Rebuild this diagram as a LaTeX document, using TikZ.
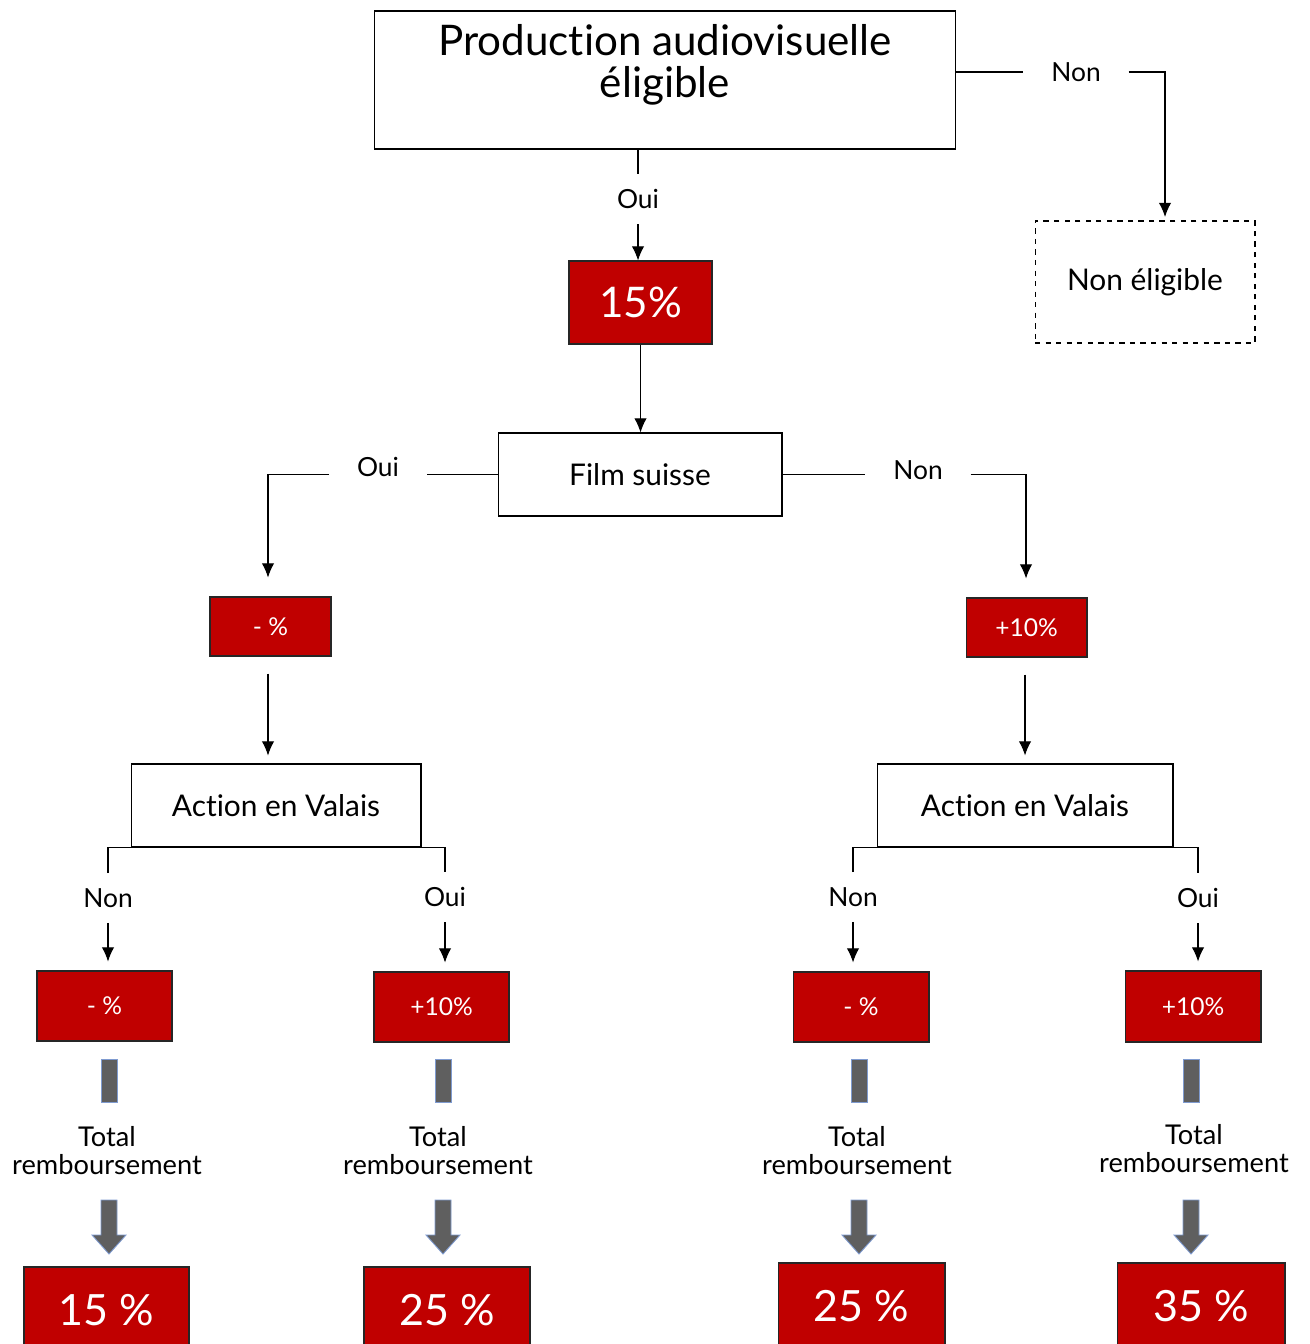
\documentclass[tikz,border=0pt]{standalone}
\usepackage{fontspec}
\setmainfont{Lato}[Ligatures={NoCommon}]
\usetikzlibrary{arrows.meta}
\definecolor{cred}{HTML}{C00000}
\definecolor{cgray}{HTML}{5F5F5F}
\definecolor{cblue}{HTML}{7F9BD0}
\tikzset{
  wbox/.style={draw=black, line width=0.6pt, fill=white, inner sep=0pt, align=center},
  rbox/.style={draw=black!85, line width=0.6pt, fill=cred, text=white, inner sep=0pt, align=center},
  lblv/.style={inner xsep=2pt, inner ysep=0.3cm, font=\fontsize{15}{16}\selectfont},
  lblh/.style={inner xsep=0.55cm, inner ysep=2pt, font=\fontsize{15}{16}\selectfont},
  ln/.style={line width=0.6pt, draw=black},
  arr/.style={line width=0.6pt, draw=black, -{Latex[length=8pt,width=7pt]}},
  garrow/.style={fill=cgray, draw=cblue, line width=0.5pt},
  tot/.style={align=center, font=\fontsize{15.5}{16}\selectfont, inner sep=0pt},
  big/.style={font=\fontsize{24.5}{26}\selectfont},
  small/.style={font=\fontsize{14}{16}\selectfont},
  mid/.style={font=\fontsize{17}{20}\selectfont},
}
\begin{document}
\begin{tikzpicture}[x=0.02cm,y=-0.02cm]
\useasboundingbox[fill=white] (0,0) rectangle (1309,1344);
% top
\node[wbox, minimum width=11.64cm, minimum height=2.76cm] (top) at (665,80) {};
\node[align=center, inner sep=0pt, font=\fontsize{24}{24}\selectfont] (title) at (665,65) {Production audiovisuelle\\éligible};
\node[wbox, dashed, minimum width=4.4cm, minimum height=2.44cm, mid] (ne) at (1145,282) {Non éligible};
\node[lblh] (nonT) at (1076,72) {Non};
\coordinate (c1) at (1165,72);
\draw[ln] (top.east |- nonT) -- (nonT.west);
\draw[arr] (nonT.east) -- (c1) -- ([yshift=2pt]c1 |- ne.north);
% 15%
\node[rbox, minimum width=2.86cm, minimum height=1.66cm, font=\fontsize{24}{26}\selectfont] (p15) at (640.5,302.5) {15\%};
\node[lblv] (oui1) at (638,199) {Oui};
\draw[ln] (top.south -| oui1) -- (oui1.north);
\draw[arr] (oui1.south) -- (oui1.south |- p15.north);
% film suisse
\node[wbox, minimum width=5.68cm, minimum height=1.66cm, mid] (fs) at (640,474.5) {Film suisse};
\draw[arr] (p15.south) -- (p15.south |- fs.north);
\node[lblh] (ouiM) at (378,467) {Oui};
\node[lblh] (nonM) at (918,470) {Non};
\node[rbox, minimum width=2.42cm, minimum height=1.18cm, small] (m1) at (270.5,626.5) {- \%};
\node[rbox, minimum width=2.42cm, minimum height=1.18cm, small] (m2) at (1026.5,627.5) {+10\%};
\coordinate (ax1) at (268,0);
\coordinate (ax2) at (1026,0);
\coordinate (ax3) at (1025,0);
\draw[ln] (fs.west) -- (fs.west -| ouiM.east);
\draw[arr, shorten >=0.38cm] (fs.west -| ouiM.west) -| (m1.north -| ax1);
\draw[ln] (fs.east) -- (fs.east -| nonM.west);
\draw[arr, shorten >=0.38cm] (fs.east -| nonM.east) -| (m2.north -| ax2);
% action en valais
\node[wbox, minimum width=5.8cm, minimum height=1.66cm, mid] (avL) at (276,805.5) {Action en Valais};
\node[wbox, minimum width=5.92cm, minimum height=1.66cm, mid] (avR) at (1025,805.5) {Action en Valais};
\draw[arr, shorten <=0.34cm, shorten >=0.16cm] (m1.south -| ax1) -- (avL.north -| ax1);
\draw[arr, shorten <=0.34cm, shorten >=0.16cm] (m2.south -| ax3) -- (avR.north -| ax3);
% bottom labels
\node[lblv] (n1) at (108,898) {Non};
\node[lblv] (o1) at (445,897) {Oui};
\node[lblv] (n2) at (853,897) {Non};
\node[lblv] (o2) at (1198,898) {Oui};
\draw[ln] (n1.north) -- (n1.north |- avL.south) -- (o1.north |- avL.south) -- (o1.north);
\draw[ln] (n2.north) -- (n2.north |- avR.south) -- (o2.north |- avR.south) -- (o2.north);
\node[rbox, minimum width=2.7cm, minimum height=1.4cm, small] (b1) at (104.5,1006) {- \%};
\node[rbox, minimum width=2.7cm, minimum height=1.4cm, small] (b2) at (441.5,1007) {+10\%};
\node[rbox, minimum width=2.72cm, minimum height=1.4cm, small] (b3) at (861,1007) {- \%};
\node[rbox, minimum width=2.72cm, minimum height=1.42cm, small] (b4) at (1193,1006.5) {+10\%};
\draw[arr, shorten >=0.18cm] (n1.south) -- (n1.south |- b1.north);
\draw[arr, shorten >=0.18cm] (o1.south) -- (o1.south |- b2.north);
\draw[arr, shorten >=0.18cm] (n2.south) -- (n2.south |- b3.north);
\draw[arr, shorten >=0.18cm] (o2.south) -- (o2.south |- b4.north);
% totals
\foreach \x/\tx/\ty [count=\i] in {109/107/1151, 443/438/1151, 859/857/1151, 1191/1194/1149}{
  \draw[garrow] (\x-8,1059) rectangle (\x+8,1102);
  \node[tot] (t\i) at (\tx,\ty) {Total\\remboursement};
  \draw[garrow, shift={(\x,1200)}] (-8,0) -- (8,0) -- (8,35) -- (17,35) -- (0,54) -- (-17,35) -- (-8,35) -- cycle;
}
\node[rbox, minimum width=3.3cm, minimum height=1.72cm, big] (f1) at (106.5,1310) {15 \%};
\node[rbox, minimum width=3.32cm, minimum height=1.72cm, big] (f2) at (447,1310) {25 \%};
\node[rbox, minimum width=3.34cm, minimum height=1.72cm, big] (f3) at (861.5,1306) {25 \%};
\node[rbox, minimum width=3.36cm, minimum height=1.72cm, big] (f4) at (1201,1306) {35 \%};
\end{tikzpicture}
\end{document}
